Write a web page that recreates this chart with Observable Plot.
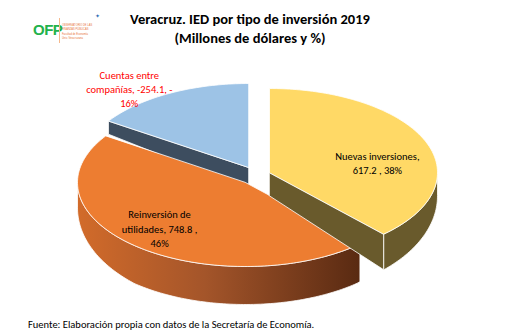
<!DOCTYPE html>
<html><head><meta charset="utf-8">
<script src="https://cdn.jsdelivr.net/npm/d3@7"></script>
<script src="https://cdn.jsdelivr.net/npm/@observablehq/plot@0.6"></script>
<style>
body{margin:0;background:#fff;}
#wrap{position:relative;width:509px;height:336px;overflow:hidden;font-family:Carlito,Calibri,Lato,sans-serif;}
#chart{position:absolute;left:0;top:0;}
#title{position:absolute;left:0;width:500px;top:10px;text-align:center;font-weight:bold;font-size:14.5px;line-height:19px;color:#000;}
#src{position:absolute;left:28px;top:318px;font-size:10.5px;color:#000;white-space:nowrap;}
#logo{position:absolute;left:33px;top:18px;width:80px;height:26px;}
#logo .ofp{position:absolute;left:0;top:3px;font-weight:bold;font-size:15px;color:#22b24c;font-family:Arial,"Liberation Sans",sans-serif;letter-spacing:-0.5px;}
#logo .bar{position:absolute;left:26px;top:0;width:1px;height:25px;background:#f6b98c;}
#logo .t{position:absolute;left:29px;font-size:2.6px;line-height:3px;color:#e8743b;white-space:nowrap;font-family:Arial,sans-serif;}
#logo .star{position:absolute;left:62px;top:-6px;font-size:6px;color:#2f6db5;}
</style></head><body>
<div id="wrap">
  <div id="chart"></div>
  <div id="logo"><span class="ofp">OFP</span><span class="bar"></span>
    <span class="t" style="top:6px">OBSERVATORIO DE LAS</span>
    <span class="t" style="top:10px">FINANZAS PÚBLICAS</span>
    <span class="t" style="top:15px">Facultad de Economía</span>
    <span class="t" style="top:19px">Univ. Veracruzana</span>
    <span class="star">✦</span></div>
  <div id="title">Veracruz. IED por tipo de inversión 2019<br>(Millones de dólares y %)</div>
  <div id="src">Fuente: Elaboración propia con datos de la Secretaría de Economía.</div>
</div>
<script>
// ---- data ----
const categories = ["Nuevas inversiones", "Reinversión de utilidades", "Cuentas entre compañías"];
const values = [617.2, 748.8, -254.1];
const percents = ["38%", "46%", "-16%"];
const labelLines = [
  "Nuevas inversiones,\n617.2 , 38%",
  "Reinversión de\nutilidades, 748.8 ,\n46%",
  "Cuentas entre\ncompañías, -254.1, -\n16%"
];

// ---- layout ----
const W = 509, H = 336;
const rx = 168, ry = 84;
const base = [245, 182];
const offsets = [[24, -10], [0, 0], [3, -15]];
const labelK = [0.69, 0.79, 1.5];
const labelDy = [11, -5, 32];
const topColors = ["#FFD966", "#ED7D31", "#9DC3E6"];
const faceColors = ["#695A2C", "#7a3c17", "#3D4D5F"];
const sideColors = ["#695A2C", "url(#orangeSide)", "#3D4D5F"];
const labelColors = ["#000", "#000", "#FF0000"];
const depth = y => Math.min(38, 12 + 0.2 * (y - 115));

const arcs = d3.pie().sort(null).value(Math.abs)(values);
const centers = offsets.map(o => [base[0] + o[0], base[1] + o[1]]);
const pt = (c, a, k = 1) => [c[0] + k * rx * Math.sin(a), c[1] - k * ry * Math.cos(a)];
const arcPts = (c, a0, a1) => {
  const n = Math.max(2, Math.ceil(Math.abs(a1 - a0) / 0.02));
  return d3.range(n + 1).map(i => pt(c, a0 + (a1 - a0) * i / n));
};
const down = p => [p[0], p[1] + depth(p[1])];

function topFace(i) { const c = centers[i], a = arcs[i]; return [c, ...arcPts(c, a.startAngle, a.endAngle)]; }
function sideFace(i) {
  const c = centers[i], a = arcs[i];
  const s0 = Math.max(a.startAngle, Math.PI / 2), s1 = Math.min(a.endAngle, 3 * Math.PI / 2);
  if (s1 <= s0) return null;
  const top = arcPts(c, s0, s1);
  return [...top, ...top.slice().reverse().map(down)];
}
function radialFace(i, a) { const c = centers[i], p = pt(c, a); return [c, p, down(p), down(c)]; }

const shape = (pts, fill) => Plot.line(pts, {x: d => d[0], y: d => d[1], curve: "linear-closed", fill, stroke: "white", strokeWidth: 0.8});

const marks = [];
marks.push(shape(radialFace(2, arcs[2].startAngle), faceColors[2]));
marks.push(shape(topFace(2), topColors[2]));
marks.push(shape(sideFace(1), sideColors[1]));
marks.push(shape(topFace(1), topColors[1]));
marks.push(shape(radialFace(0, arcs[0].endAngle), faceColors[0]));
marks.push(shape(sideFace(0), sideColors[0]));
marks.push(shape(topFace(0), topColors[0]));

const labels = arcs.map((a, i) => {
  const mid = (a.startAngle + a.endAngle) / 2;
  const p = pt(centers[i], mid, labelK[i]);
  return {x: p[0], y: p[1] + labelDy[i], text: labelLines[i], color: labelColors[i]};
});
marks.push(Plot.text(labels, {x: "x", y: "y", text: "text", fill: "color", fontSize: 10.5, lineHeight: 1.35, fontFamily: "Carlito, Calibri, Lato, sans-serif"}));

const chart = Plot.plot({
  width: W, height: H, margin: 0,
  x: {domain: [0, W], range: [0, W], axis: null},
  y: {domain: [0, H], range: [0, H], axis: null},
  color: {type: "identity"},
  style: {background: "white"},
  marks
});
const ns = "http://www.w3.org/2000/svg";
const defs = document.createElementNS(ns, "defs");
const g = document.createElementNS(ns, "linearGradient");
g.setAttribute("id", "orangeSide");
[["0", "#D26B2A"], ["0.45", "#A4552A"], ["1", "#592A12"]].forEach(([o, c]) => {
  const s = document.createElementNS(ns, "stop");
  s.setAttribute("offset", o); s.setAttribute("stop-color", c); g.appendChild(s);
});
defs.appendChild(g);
chart.insertBefore(defs, chart.firstChild);
document.getElementById("chart").appendChild(chart);
</script>
</body></html>
